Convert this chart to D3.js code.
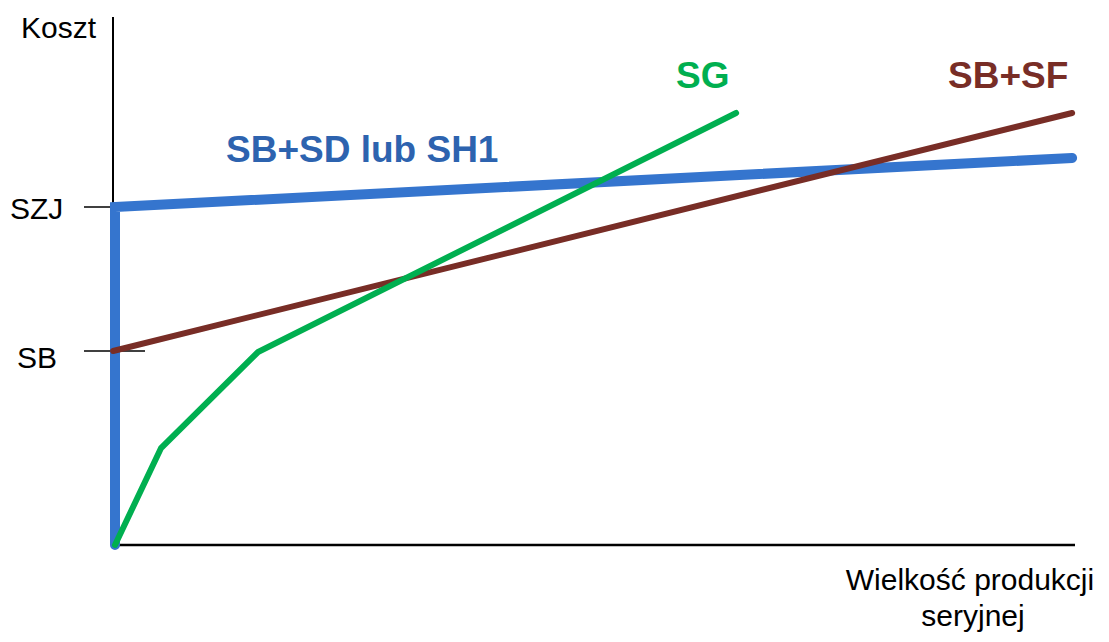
<!DOCTYPE html>
<html>
<head>
<meta charset="utf-8">
<script src="https://cdn.jsdelivr.net/npm/d3@7"></script>
<style>
  body { margin: 0; background: #fff; }
  svg { font-family: Arial, "Liberation Sans", sans-serif; }
</style>
</head>
<body>
<div id="chart"></div>
<script>
// values on a 0-100 scale for both axes
var blueLine = [[0, 0], [0, 67.6], [99.7, 77.4]];        // SB+SD lub SH1
var brownLine = [[-0.2, 38.8], [99.7, 86.4]];            // SB+SF
var greenLine = [[0, 0], [4.8, 19.4], [14.9, 38.6], [64.7, 86.4]]; // SG
var yTicks = ["SZJ", "SB"];
var yTickValues = [67.6, 38.8];
var seriesNames = ["SB+SD lub SH1", "SG", "SB+SF"];

var svg = d3.select("#chart").append("svg")
    .attr("width", 1109)
    .attr("height", 642);

var x = d3.scaleLinear().domain([0, 100]).range([115, 1075]);
var y = d3.scaleLinear().domain([0, 100]).range([545, 45]);

var line = d3.line()
    .x(function (d) { return x(d[0]); })
    .y(function (d) { return y(d[1]); });

// axes
svg.append("line")
    .attr("x1", 113).attr("x2", 113)
    .attr("y1", 17).attr("y2", 545)
    .attr("stroke", "#000").attr("stroke-width", 2);
svg.append("line")
    .attr("x1", x(0)).attr("x2", x(100))
    .attr("y1", y(0)).attr("y2", y(0))
    .attr("stroke", "#000").attr("stroke-width", 2.5);

// ticks (SB one pokes through the axis)
var tickLabelX = [10, 17];
var tickLabelDy = [12, 17];
yTickValues.forEach(function (v, i) {
    svg.append("line")
        .attr("x1", 84).attr("x2", i == 1 ? 145 : 113)
        .attr("y1", y(v)).attr("y2", y(v))
        .attr("stroke", "#000").attr("stroke-width", 1.5);
    svg.append("text")
        .attr("x", tickLabelX[i])
        .attr("y", y(v) + tickLabelDy[i])
        .attr("font-size", 30)
        .text(yTicks[i]);
});

svg.append("text")
    .attr("x", 21).attr("y", 38)
    .attr("font-size", 30)
    .text("Koszt");

svg.append("text")
    .attr("x", 970).attr("y", 590)
    .attr("text-anchor", "middle")
    .attr("font-size", 30)
    .text("Wielkość produkcji");
svg.append("text")
    .attr("x", 973).attr("y", 626)
    .attr("text-anchor", "middle")
    .attr("font-size", 30)
    .text("seryjnej");

// lines
svg.append("path").datum(blueLine)
    .attr("d", line)
    .attr("fill", "none")
    .attr("stroke", "#3575CE")
    .attr("stroke-width", 10)
    .attr("stroke-linecap", "round");

svg.append("path").datum(brownLine)
    .attr("d", line)
    .attr("fill", "none")
    .attr("stroke", "#782D26")
    .attr("stroke-width", 6)
    .attr("stroke-linecap", "round");

svg.append("path").datum(greenLine)
    .attr("d", line)
    .attr("fill", "none")
    .attr("stroke", "#00AF50")
    .attr("stroke-width", 6)
    .attr("stroke-linecap", "round");

// series labels
svg.append("text")
    .attr("x", 226).attr("y", 162)
    .attr("font-size", 37).attr("font-weight", "bold")
    .attr("fill", "#2D63AF")
    .text(seriesNames[0]);
svg.append("text")
    .attr("x", 676).attr("y", 88)
    .attr("font-size", 37).attr("font-weight", "bold")
    .attr("fill", "#00AF50")
    .text(seriesNames[1]);
svg.append("text")
    .attr("x", 948).attr("y", 88)
    .attr("font-size", 37).attr("font-weight", "bold")
    .attr("fill", "#782D26")
    .text(seriesNames[2]);
</script>
</body>
</html>
